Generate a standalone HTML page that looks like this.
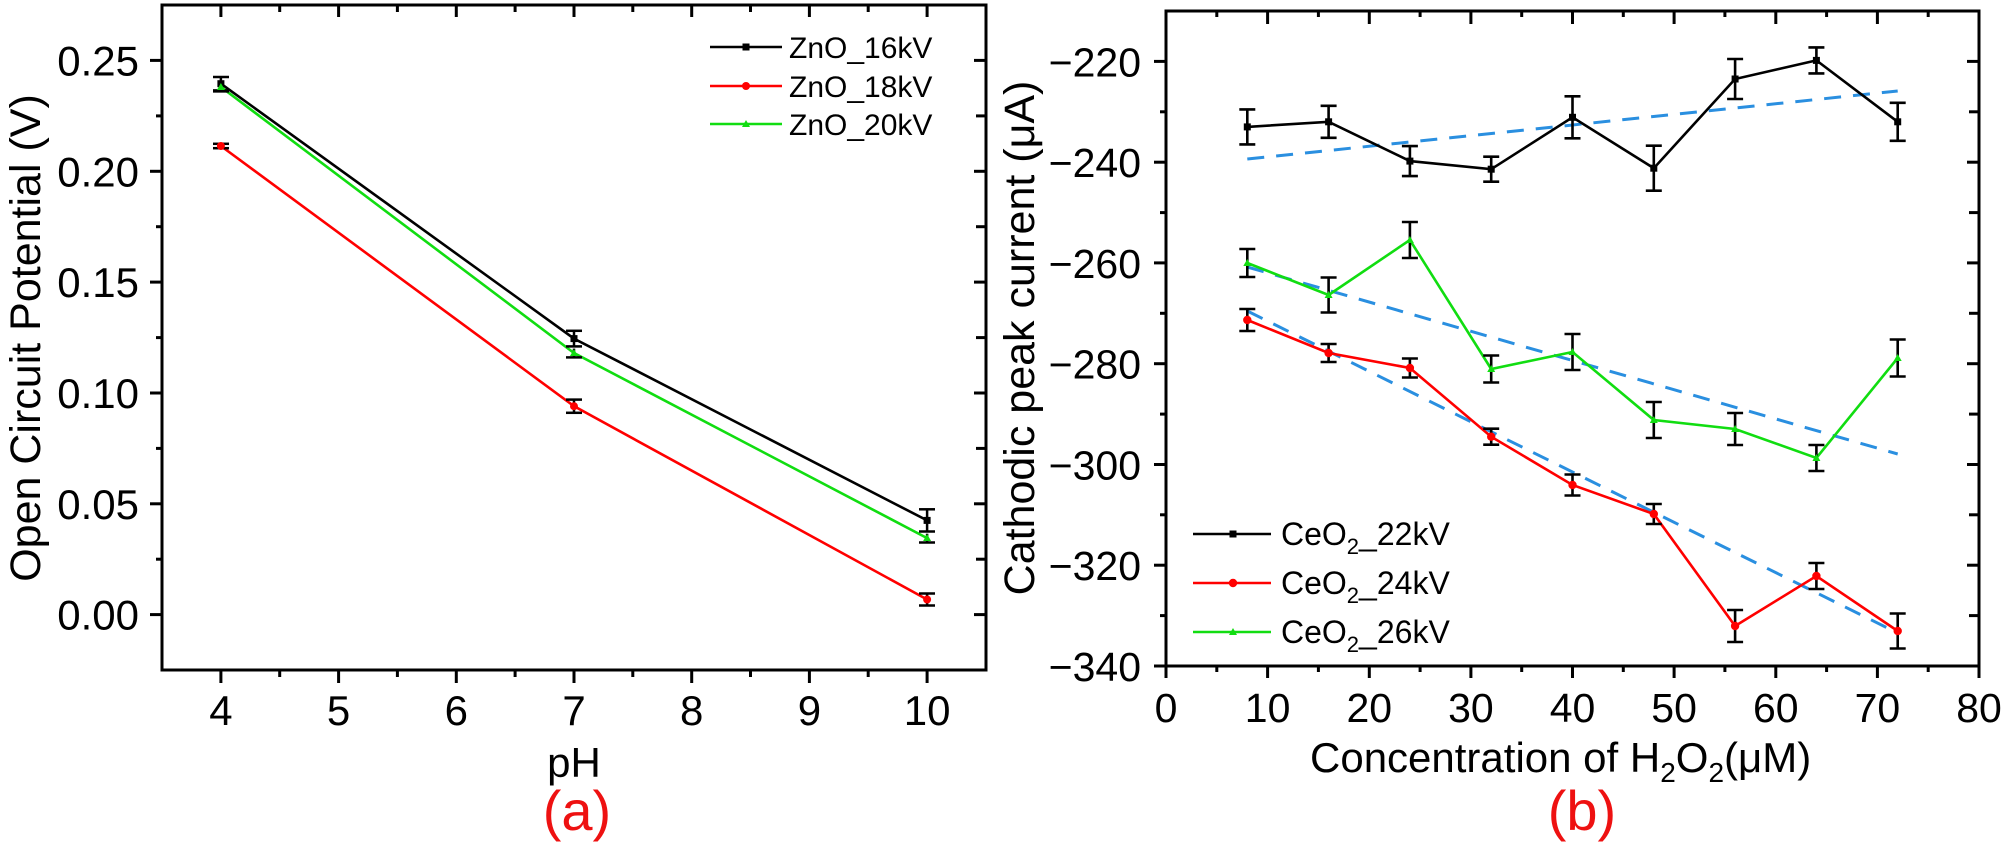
<!DOCTYPE html>
<html>
<head>
<meta charset="utf-8">
<style>
  html,body{margin:0;padding:0;background:#fff;}
  body{width:2008px;height:859px;overflow:hidden;}
  svg{display:block;}
  text{font-family:"Liberation Sans",Arial,sans-serif;fill:#000;}
</style>
</head>
<body>
<svg width="2008" height="859" viewBox="0 0 2008 859" xmlns="http://www.w3.org/2000/svg">
  <rect x="0" y="0" width="2008" height="859" fill="#fff"/>

  <!-- ================= LEFT PANEL (a) ================= -->
  <g stroke="#000" stroke-width="3" fill="none">
    <rect x="162" y="5" width="824" height="665"/>
  </g>
  <!-- bottom ticks (outward) -->
  <g stroke="#000" stroke-width="3">
    <line x1="220.9" y1="670" x2="220.9" y2="683"/>
    <line x1="338.6" y1="670" x2="338.6" y2="683"/>
    <line x1="456.3" y1="670" x2="456.3" y2="683"/>
    <line x1="574.0" y1="670" x2="574.0" y2="683"/>
    <line x1="691.7" y1="670" x2="691.7" y2="683"/>
    <line x1="809.4" y1="670" x2="809.4" y2="683"/>
    <line x1="927.1" y1="670" x2="927.1" y2="683"/>
    <line x1="279.7" y1="670" x2="279.7" y2="677"/>
    <line x1="397.4" y1="670" x2="397.4" y2="677"/>
    <line x1="515.1" y1="670" x2="515.1" y2="677"/>
    <line x1="632.8" y1="670" x2="632.8" y2="677"/>
    <line x1="750.5" y1="670" x2="750.5" y2="677"/>
    <line x1="868.2" y1="670" x2="868.2" y2="677"/>
    <!-- top ticks (inward) -->
    <line x1="220.9" y1="5" x2="220.9" y2="17"/>
    <line x1="338.6" y1="5" x2="338.6" y2="17"/>
    <line x1="456.3" y1="5" x2="456.3" y2="17"/>
    <line x1="574.0" y1="5" x2="574.0" y2="17"/>
    <line x1="691.7" y1="5" x2="691.7" y2="17"/>
    <line x1="809.4" y1="5" x2="809.4" y2="17"/>
    <line x1="927.1" y1="5" x2="927.1" y2="17"/>
    <line x1="279.7" y1="5" x2="279.7" y2="12"/>
    <line x1="397.4" y1="5" x2="397.4" y2="12"/>
    <line x1="515.1" y1="5" x2="515.1" y2="12"/>
    <line x1="632.8" y1="5" x2="632.8" y2="12"/>
    <line x1="750.5" y1="5" x2="750.5" y2="12"/>
    <line x1="868.2" y1="5" x2="868.2" y2="12"/>
    <!-- left ticks (outward) -->
    <line x1="150" y1="614.6" x2="162" y2="614.6"/>
    <line x1="150" y1="503.8" x2="162" y2="503.8"/>
    <line x1="150" y1="393.0" x2="162" y2="393.0"/>
    <line x1="150" y1="282.1" x2="162" y2="282.1"/>
    <line x1="150" y1="171.3" x2="162" y2="171.3"/>
    <line x1="150" y1="60.4" x2="162" y2="60.4"/>
    <line x1="156" y1="559.2" x2="162" y2="559.2"/>
    <line x1="156" y1="448.4" x2="162" y2="448.4"/>
    <line x1="156" y1="337.6" x2="162" y2="337.6"/>
    <line x1="156" y1="226.7" x2="162" y2="226.7"/>
    <line x1="156" y1="115.9" x2="162" y2="115.9"/>
    <!-- right ticks (inward) -->
    <line x1="974" y1="614.6" x2="986" y2="614.6"/>
    <line x1="974" y1="503.8" x2="986" y2="503.8"/>
    <line x1="974" y1="393.0" x2="986" y2="393.0"/>
    <line x1="974" y1="282.1" x2="986" y2="282.1"/>
    <line x1="974" y1="171.3" x2="986" y2="171.3"/>
    <line x1="974" y1="60.4" x2="986" y2="60.4"/>
    <line x1="976" y1="559.2" x2="986" y2="559.2"/>
    <line x1="976" y1="448.4" x2="986" y2="448.4"/>
    <line x1="976" y1="337.6" x2="986" y2="337.6"/>
    <line x1="976" y1="226.7" x2="986" y2="226.7"/>
    <line x1="976" y1="115.9" x2="986" y2="115.9"/>
  </g>
  <!-- y tick labels -->
  <g font-size="42" text-anchor="end">
    <text x="139" y="629.6">0.00</text>
    <text x="139" y="518.8">0.05</text>
    <text x="139" y="408.0">0.10</text>
    <text x="139" y="297.1">0.15</text>
    <text x="139" y="186.3">0.20</text>
    <text x="139" y="75.4">0.25</text>
  </g>
  <!-- x tick labels -->
  <g font-size="42" text-anchor="middle">
    <text x="220.9" y="725">4</text>
    <text x="338.6" y="725">5</text>
    <text x="456.3" y="725">6</text>
    <text x="574.0" y="725">7</text>
    <text x="691.7" y="725">8</text>
    <text x="809.4" y="725">9</text>
    <text x="927.1" y="725">10</text>
  </g>
  <text x="574" y="777" font-size="42" text-anchor="middle">pH</text>
  <text x="577" y="830" font-size="56" text-anchor="middle" style="fill:#ee1111">(a)</text>
  <text transform="translate(40,338) rotate(-90)" font-size="43" text-anchor="middle">Open Circuit Potential (V)</text>

  <!-- series lines -->
  <polyline points="220.9,83.7 574.0,338.6 927.1,520.4" fill="none" stroke="#000" stroke-width="2.6"/>
  <polyline points="220.9,146 574.0,406.2 927.1,599.5" fill="none" stroke="#ff0000" stroke-width="2.6"/>
  <polyline points="220.9,87.0 574.0,353.0 927.1,538.1" fill="none" stroke="#11dd11" stroke-width="2.6"/>
  <!-- error bars -->
  <g stroke="#000" stroke-width="2.5">
    <line x1="220.9" y1="77" x2="220.9" y2="90.4"/><line x1="213" y1="77" x2="229" y2="77"/><line x1="213" y1="90.4" x2="229" y2="90.4"/>
    <line x1="574" y1="330.8" x2="574" y2="346.4"/><line x1="566" y1="330.8" x2="582" y2="330.8"/><line x1="566" y1="346.4" x2="582" y2="346.4"/>
    <line x1="927.1" y1="509.3" x2="927.1" y2="531.5"/><line x1="919" y1="509.3" x2="935" y2="509.3"/><line x1="919" y1="531.5" x2="935" y2="531.5"/>
    <line x1="220.9" y1="82.6" x2="220.9" y2="91.4"/><line x1="213" y1="91.4" x2="229" y2="91.4"/>
    <line x1="574" y1="348.6" x2="574" y2="357.4"/><line x1="566" y1="357.4" x2="582" y2="357.4"/>
    <line x1="927.1" y1="533.7" x2="927.1" y2="542.5"/><line x1="919" y1="542.5" x2="935" y2="542.5"/>
    <line x1="220.9" y1="143.8" x2="220.9" y2="148.2"/><line x1="213" y1="143.8" x2="229" y2="143.8"/><line x1="213" y1="148.2" x2="229" y2="148.2"/>
    <line x1="574" y1="399.6" x2="574" y2="412.8"/><line x1="566" y1="399.6" x2="582" y2="399.6"/><line x1="566" y1="412.8" x2="582" y2="412.8"/>
    <line x1="927.1" y1="593.5" x2="927.1" y2="605.5"/><line x1="919" y1="593.5" x2="935" y2="593.5"/><line x1="919" y1="605.5" x2="935" y2="605.5"/>
  </g>
  <!-- markers -->
  <g fill="#000">
    <rect x="217.4" y="80.2" width="7" height="7"/>
    <rect x="570.5" y="335.1" width="7" height="7"/>
    <rect x="923.6" y="516.9" width="7" height="7"/>
  </g>
  <g fill="#ff0000">
    <circle cx="220.9" cy="146" r="4"/>
    <circle cx="574" cy="406.2" r="4"/>
    <circle cx="927.1" cy="599.5" r="4"/>
  </g>
  <g fill="#11dd11">
    <polygon points="220.9,83 216.9,90 224.9,90"/>
    <polygon points="574,349 570,356 578,356"/>
    <polygon points="927.1,534 923.1,541 931.1,541"/>
  </g>
  <!-- legend left -->
  <g stroke-width="2.6">
    <line x1="710" y1="47" x2="782" y2="47" stroke="#000"/>
    <line x1="710" y1="86" x2="782" y2="86" stroke="#ff0000"/>
    <line x1="710" y1="124" x2="782" y2="124" stroke="#11dd11"/>
  </g>
  <rect x="742.5" y="43.5" width="7" height="7" fill="#000"/>
  <circle cx="746" cy="86" r="4" fill="#ff0000"/>
  <polygon points="746,120 742,127 750,127" fill="#11dd11"/>
  <g font-size="30">
    <text x="789" y="58">ZnO_16kV</text>
    <text x="789" y="97">ZnO_18kV</text>
    <text x="789" y="135">ZnO_20kV</text>
  </g>

  <!-- ================= RIGHT PANEL (b) ================= -->
  <g stroke="#000" stroke-width="3" fill="none">
    <rect x="1166" y="11" width="813" height="655"/>
  </g>
  <g stroke="#000" stroke-width="3">
    <!-- bottom ticks outward -->
    <line x1="1166" y1="666" x2="1166" y2="678"/>
    <line x1="1267.6" y1="666" x2="1267.6" y2="678"/>
    <line x1="1369.3" y1="666" x2="1369.3" y2="678"/>
    <line x1="1470.9" y1="666" x2="1470.9" y2="678"/>
    <line x1="1572.5" y1="666" x2="1572.5" y2="678"/>
    <line x1="1674.1" y1="666" x2="1674.1" y2="678"/>
    <line x1="1775.8" y1="666" x2="1775.8" y2="678"/>
    <line x1="1877.4" y1="666" x2="1877.4" y2="678"/>
    <line x1="1979" y1="666" x2="1979" y2="678"/>
    <line x1="1216.8" y1="666" x2="1216.8" y2="672"/>
    <line x1="1318.4" y1="666" x2="1318.4" y2="672"/>
    <line x1="1420.1" y1="666" x2="1420.1" y2="672"/>
    <line x1="1521.7" y1="666" x2="1521.7" y2="672"/>
    <line x1="1623.3" y1="666" x2="1623.3" y2="672"/>
    <line x1="1724.9" y1="666" x2="1724.9" y2="672"/>
    <line x1="1826.6" y1="666" x2="1826.6" y2="672"/>
    <line x1="1928.2" y1="666" x2="1928.2" y2="672"/>
    <!-- top ticks inward -->
    <line x1="1267.6" y1="11" x2="1267.6" y2="24"/>
    <line x1="1369.3" y1="11" x2="1369.3" y2="24"/>
    <line x1="1470.9" y1="11" x2="1470.9" y2="24"/>
    <line x1="1572.5" y1="11" x2="1572.5" y2="24"/>
    <line x1="1674.1" y1="11" x2="1674.1" y2="24"/>
    <line x1="1775.8" y1="11" x2="1775.8" y2="24"/>
    <line x1="1877.4" y1="11" x2="1877.4" y2="24"/>
    <line x1="1216.8" y1="11" x2="1216.8" y2="17"/>
    <line x1="1318.4" y1="11" x2="1318.4" y2="17"/>
    <line x1="1420.1" y1="11" x2="1420.1" y2="17"/>
    <line x1="1521.7" y1="11" x2="1521.7" y2="17"/>
    <line x1="1623.3" y1="11" x2="1623.3" y2="17"/>
    <line x1="1724.9" y1="11" x2="1724.9" y2="17"/>
    <line x1="1826.6" y1="11" x2="1826.6" y2="17"/>
    <line x1="1928.2" y1="11" x2="1928.2" y2="17"/>
    <!-- left ticks outward -->
    <line x1="1154" y1="61.4" x2="1166" y2="61.4"/>
    <line x1="1154" y1="162.2" x2="1166" y2="162.2"/>
    <line x1="1154" y1="262.9" x2="1166" y2="262.9"/>
    <line x1="1154" y1="363.7" x2="1166" y2="363.7"/>
    <line x1="1154" y1="464.5" x2="1166" y2="464.5"/>
    <line x1="1154" y1="565.2" x2="1166" y2="565.2"/>
    <line x1="1154" y1="666" x2="1166" y2="666"/>
    <line x1="1160" y1="111.8" x2="1166" y2="111.8"/>
    <line x1="1160" y1="212.6" x2="1166" y2="212.6"/>
    <line x1="1160" y1="313.3" x2="1166" y2="313.3"/>
    <line x1="1160" y1="414.1" x2="1166" y2="414.1"/>
    <line x1="1160" y1="514.8" x2="1166" y2="514.8"/>
    <line x1="1160" y1="615.6" x2="1166" y2="615.6"/>
    <!-- right ticks inward -->
    <line x1="1967" y1="61.4" x2="1979" y2="61.4"/>
    <line x1="1967" y1="162.2" x2="1979" y2="162.2"/>
    <line x1="1967" y1="262.9" x2="1979" y2="262.9"/>
    <line x1="1967" y1="363.7" x2="1979" y2="363.7"/>
    <line x1="1967" y1="464.5" x2="1979" y2="464.5"/>
    <line x1="1967" y1="565.2" x2="1979" y2="565.2"/>
    <line x1="1969" y1="111.8" x2="1979" y2="111.8"/>
    <line x1="1969" y1="212.6" x2="1979" y2="212.6"/>
    <line x1="1969" y1="313.3" x2="1979" y2="313.3"/>
    <line x1="1969" y1="414.1" x2="1979" y2="414.1"/>
    <line x1="1969" y1="514.8" x2="1979" y2="514.8"/>
    <line x1="1969" y1="615.6" x2="1979" y2="615.6"/>
  </g>
  <g font-size="41" text-anchor="end">
    <text x="1141" y="76.4">−220</text>
    <text x="1141" y="177.2">−240</text>
    <text x="1141" y="277.9">−260</text>
    <text x="1141" y="378.7">−280</text>
    <text x="1141" y="479.5">−300</text>
    <text x="1141" y="580.2">−320</text>
    <text x="1141" y="681">−340</text>
  </g>
  <g font-size="41" text-anchor="middle">
    <text x="1166" y="722">0</text>
    <text x="1267.6" y="722">10</text>
    <text x="1369.3" y="722">20</text>
    <text x="1470.9" y="722">30</text>
    <text x="1572.5" y="722">40</text>
    <text x="1674.1" y="722">50</text>
    <text x="1775.8" y="722">60</text>
    <text x="1877.4" y="722">70</text>
    <text x="1979" y="722">80</text>
  </g>
  <text x="1310" y="772" font-size="42">Concentration of H<tspan font-size="28" dy="10">2</tspan><tspan dy="-10">O</tspan><tspan font-size="28" dy="10">2</tspan><tspan dy="-10">(μM)</tspan></text>
  <text x="1582" y="830" font-size="56" text-anchor="middle" style="fill:#ee1111">(b)</text>
  <text transform="translate(1034,338) rotate(-90)" font-size="43" text-anchor="middle">Cathodic peak current (μA)</text>

  <!-- fit lines -->
  <g stroke="#2a8fe0" stroke-width="3" stroke-dasharray="17,12" fill="none">
    <line x1="1247.3" y1="159" x2="1897.7" y2="91"/>
    <line x1="1247.3" y1="267" x2="1897.7" y2="454"/>
    <line x1="1247.3" y1="311" x2="1897.7" y2="633"/>
  </g>

  <!-- series lines -->
  <polyline fill="none" stroke="#000" stroke-width="2.6" points="1247.3,126.9 1328.6,121.8 1409.9,161.1 1491.2,169.2 1572.5,117.3 1653.8,168.2 1735.1,79 1816.4,60.4 1897.7,121.8"/>
  <polyline fill="none" stroke="#11dd11" stroke-width="2.6" points="1247.3,263 1328.6,295 1409.9,240 1491.2,369 1572.5,352 1653.8,420 1735.1,429 1816.4,458 1897.7,358"/>
  <polyline fill="none" stroke="#ff0000" stroke-width="2.6" points="1247.3,320 1328.6,353 1409.9,368 1491.2,436.7 1572.5,485 1653.8,514 1735.1,626 1816.4,576 1897.7,631"/>

  <!-- error bars right -->
  <g stroke="#000" stroke-width="2.6">
    <!-- black -->
    <path d="M1247.3 109.4V144.4M1239.3 109.4H1255.3M1239.3 144.4H1255.3"/>
    <path d="M1328.6 105.8V137.8M1320.6 105.8H1336.6M1320.6 137.8H1336.6"/>
    <path d="M1409.9 146.1V176.1M1401.9 146.1H1417.9M1401.9 176.1H1417.9"/>
    <path d="M1491.2 156.7V181.7M1483.2 156.7H1499.2M1483.2 181.7H1499.2"/>
    <path d="M1572.5 96.3V138.3M1564.5 96.3H1580.5M1564.5 138.3H1580.5"/>
    <path d="M1653.8 145.7V190.7M1645.8 145.7H1661.8M1645.8 190.7H1661.8"/>
    <path d="M1735.1 59V99M1727.1 59H1743.1M1727.1 99H1743.1"/>
    <path d="M1816.4 47.4V73.4M1808.4 47.4H1824.4M1808.4 73.4H1824.4"/>
    <path d="M1897.7 102.8V140.8M1889.7 102.8H1905.7M1889.7 140.8H1905.7"/>
    <!-- green -->
    <path d="M1247.3 249V277M1239.3 249H1255.3M1239.3 277H1255.3"/>
    <path d="M1328.6 277.5V312.5M1320.6 277.5H1336.6M1320.6 312.5H1336.6"/>
    <path d="M1409.9 222V258M1401.9 222H1417.9M1401.9 258H1417.9"/>
    <path d="M1491.2 355.5V382.5M1483.2 355.5H1499.2M1483.2 382.5H1499.2"/>
    <path d="M1572.5 334V370M1564.5 334H1580.5M1564.5 370H1580.5"/>
    <path d="M1653.8 402V438M1645.8 402H1661.8M1645.8 438H1661.8"/>
    <path d="M1735.1 413V445M1727.1 413H1743.1M1727.1 445H1743.1"/>
    <path d="M1816.4 445V471M1808.4 445H1824.4M1808.4 471H1824.4"/>
    <path d="M1897.7 339.5V376.5M1889.7 339.5H1905.7M1889.7 376.5H1905.7"/>
    <!-- red -->
    <path d="M1247.3 309V331M1239.3 309H1255.3M1239.3 331H1255.3"/>
    <path d="M1328.6 344V362M1320.6 344H1336.6M1320.6 362H1336.6"/>
    <path d="M1409.9 358.5V377.5M1401.9 358.5H1417.9M1401.9 377.5H1417.9"/>
    <path d="M1491.2 428.7V444.7M1483.2 428.7H1499.2M1483.2 444.7H1499.2"/>
    <path d="M1572.5 474.5V495.5M1564.5 474.5H1580.5M1564.5 495.5H1580.5"/>
    <path d="M1653.8 504V524M1645.8 504H1661.8M1645.8 524H1661.8"/>
    <path d="M1735.1 610V642M1727.1 610H1743.1M1727.1 642H1743.1"/>
    <path d="M1816.4 563V589M1808.4 563H1824.4M1808.4 589H1824.4"/>
    <path d="M1897.7 613.5V648.5M1889.7 613.5H1905.7M1889.7 648.5H1905.7"/>
  </g>

  <!-- markers right -->
  <g fill="#000">
    <rect x="1243.8" y="123.4" width="7" height="7"/>
    <rect x="1325.1" y="118.3" width="7" height="7"/>
    <rect x="1406.4" y="157.6" width="7" height="7"/>
    <rect x="1487.7" y="165.7" width="7" height="7"/>
    <rect x="1569" y="113.8" width="7" height="7"/>
    <rect x="1650.3" y="164.7" width="7" height="7"/>
    <rect x="1731.6" y="75.5" width="7" height="7"/>
    <rect x="1812.9" y="56.9" width="7" height="7"/>
    <rect x="1894.2" y="118.3" width="7" height="7"/>
  </g>
  <g fill="#ff0000">
    <circle cx="1247.3" cy="320" r="4.2"/>
    <circle cx="1328.6" cy="353" r="4.2"/>
    <circle cx="1409.9" cy="368" r="4.2"/>
    <circle cx="1491.2" cy="436.7" r="4.2"/>
    <circle cx="1572.5" cy="485" r="4.2"/>
    <circle cx="1653.8" cy="514" r="4.2"/>
    <circle cx="1735.1" cy="626" r="4.2"/>
    <circle cx="1816.4" cy="576" r="4.2"/>
    <circle cx="1897.7" cy="631" r="4.2"/>
  </g>
  <g fill="#11dd11">
    <polygon points="1247.3,259 1243.3,266 1251.3,266"/>
    <polygon points="1328.6,291 1324.6,298 1332.6,298"/>
    <polygon points="1409.9,236 1405.9,243 1413.9,243"/>
    <polygon points="1491.2,365 1487.2,372 1495.2,372"/>
    <polygon points="1572.5,348 1568.5,355 1576.5,355"/>
    <polygon points="1653.8,416 1649.8,423 1657.8,423"/>
    <polygon points="1735.1,425 1731.1,432 1739.1,432"/>
    <polygon points="1816.4,454 1812.4,461 1820.4,461"/>
    <polygon points="1897.7,354 1893.7,361 1901.7,361"/>
  </g>

  <!-- legend right -->
  <g stroke-width="2.6">
    <line x1="1193" y1="534" x2="1271" y2="534" stroke="#000"/>
    <line x1="1193" y1="583" x2="1271" y2="583" stroke="#ff0000"/>
    <line x1="1193" y1="632" x2="1271" y2="632" stroke="#11dd11"/>
  </g>
  <rect x="1229.5" y="530.5" width="7" height="7" fill="#000"/>
  <circle cx="1233" cy="583" r="4.2" fill="#ff0000"/>
  <polygon points="1233,628 1229,635 1237,635" fill="#11dd11"/>
  <g font-size="32">
    <text x="1281" y="545">CeO<tspan font-size="22" dy="9">2</tspan><tspan dy="-9">_22kV</tspan></text>
    <text x="1281" y="594">CeO<tspan font-size="22" dy="9">2</tspan><tspan dy="-9">_24kV</tspan></text>
    <text x="1281" y="643">CeO<tspan font-size="22" dy="9">2</tspan><tspan dy="-9">_26kV</tspan></text>
  </g>
</svg>
</body>
</html>
